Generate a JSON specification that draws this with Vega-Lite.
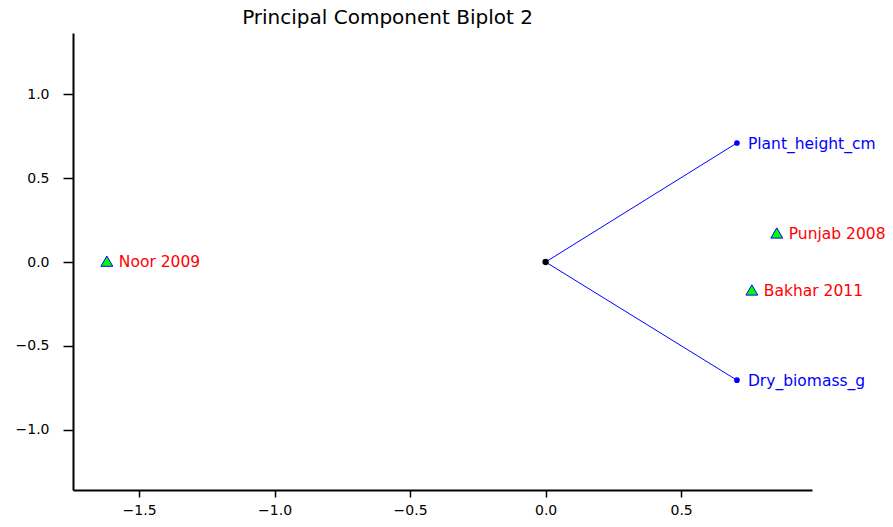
{
  "$schema": "https://vega.github.io/schema/vega-lite/v6.json",
  "autosize": "none",
  "width": 739,
  "height": 457,
  "padding": {"left": 73, "top": 33, "right": 81, "bottom": 37},
  "background": "white",
  "config": {
    "view": {"stroke": null},
    "font": "DejaVu Sans",
    "axis": {
      "grid": false,
      "domainColor": "black",
      "domainWidth": 2,
      "tickColor": "black",
      "tickWidth": 1.5,
      "labelFont": "DejaVu Sans",
      "labelFontSize": 14,
      "labelColor": "black",
      "title": null
    }
  },
  "title": {
    "text": "Principal Component Biplot 2",
    "font": "DejaVu Sans",
    "fontSize": 20,
    "fontWeight": "normal",
    "color": "black",
    "anchor": "middle",
    "dx": -55,
    "offset": 5,
    "frame": "group"
  },
  "data": {
    "values": [
      {"type": "var", "name": "Plant_height_cm", "x": 0.706, "y": 0.71},
      {"type": "var", "name": "Dry_biomass_g", "x": 0.706, "y": -0.705},
      {"type": "obs", "name": "Noor 2009", "x": -1.619, "y": 0.005},
      {"type": "obs", "name": "Punjab 2008", "x": 0.853, "y": 0.173},
      {"type": "obs", "name": "Bakhar 2011", "x": 0.761, "y": -0.167},
      {"type": "origin", "name": "", "x": 0, "y": 0}
    ]
  },
  "encoding": {
    "x": {
      "field": "x", "type": "quantitative",
      "scale": {"domain": [-1.744, 0.983], "nice": false, "zero": false},
      "axis": {"values": [-1.5, -1.0, -0.5, 0.0, 0.5], "format": ".1f", "tickSize": 7, "labelPadding": 6}
    },
    "y": {
      "field": "y", "type": "quantitative",
      "scale": {"domain": [-1.36, 1.366], "nice": false, "zero": false},
      "axis": {"values": [-1.0, -0.5, 0.0, 0.5, 1.0], "format": ".1f", "tickSize": 10, "labelPadding": 14}
    }
  },
  "layer": [
    {
      "transform": [{"filter": "datum.type === 'var'"}],
      "mark": {"type": "rule", "color": "#0000ff", "strokeWidth": 1},
      "encoding": {"x2": {"datum": 0}, "y2": {"datum": 0}}
    },
    {
      "transform": [{"filter": "datum.type === 'var'"}],
      "mark": {"type": "point", "shape": "circle", "filled": true, "color": "#0000ff", "size": 32, "opacity": 1}
    },
    {
      "transform": [{"filter": "datum.type === 'var'"}],
      "mark": {"type": "text", "align": "left", "baseline": "middle", "dx": 11, "dy": 1, "color": "#0000ff", "fontSize": 15.5, "font": "DejaVu Sans"},
      "encoding": {"text": {"field": "name"}}
    },
    {
      "transform": [{"filter": "datum.type === 'obs'"}],
      "mark": {"type": "point", "shape": "triangle-up", "filled": true, "fill": "#00ff00", "stroke": "#0000ff", "strokeWidth": 1, "size": 140, "opacity": 1}
    },
    {
      "transform": [{"filter": "datum.type === 'obs'"}],
      "mark": {"type": "text", "align": "left", "baseline": "middle", "dx": 12, "dy": 1, "color": "#ff0000", "fontSize": 15.5, "font": "DejaVu Sans"},
      "encoding": {"text": {"field": "name"}}
    },
    {
      "transform": [{"filter": "datum.type === 'origin'"}],
      "mark": {"type": "point", "shape": "circle", "filled": true, "color": "black", "size": 40, "opacity": 1}
    }
  ]
}
